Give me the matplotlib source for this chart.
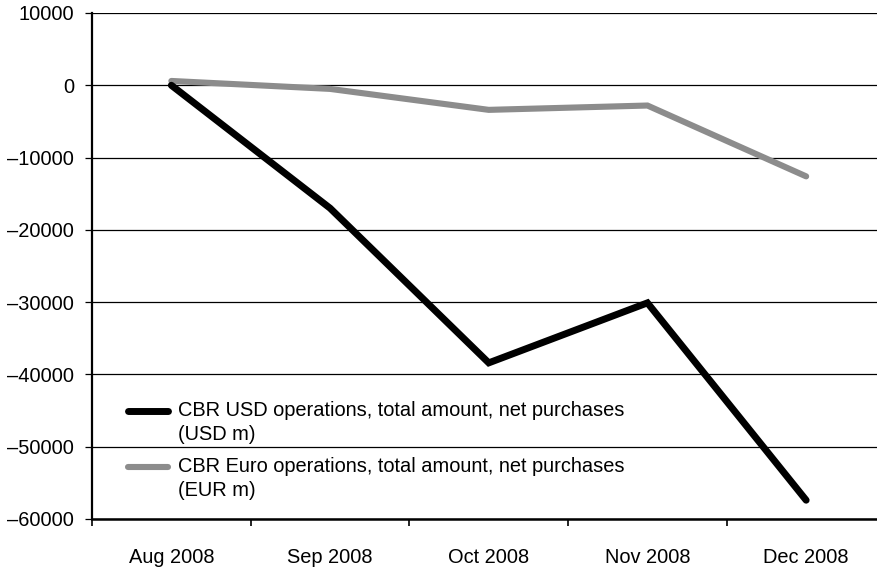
import numpy as np
import matplotlib
matplotlib.use("Agg")
import matplotlib.pyplot as plt
from matplotlib.ticker import FixedLocator

plt.rcParams['font.family'] = ['Liberation Sans', 'DejaVu Sans']

months = ["Aug 2008", "Sep 2008", "Oct 2008", "Nov 2008", "Dec 2008"]
usd_net = [0, -17000, -38400, -30100, -57400]
eur_net = [600, -500, -3400, -2800, -12600]
usd_label = ["CBR USD operations, total amount, net purchases", "(USD m)"]
eur_label = ["CBR Euro operations, total amount, net purchases", "(EUR m)"]
yticks = [10000, 0, -10000, -20000, -30000, -40000, -50000, -60000]

W, H = 878, 571
fs = 14.4
fig = plt.figure(figsize=(W / 100, H / 100), dpi=100)
ax = fig.add_axes([92 / W, 1 - 519 / H, 1 - 92 / W, (519 - 13) / H])

x = np.arange(len(months))
ax.plot(x, eur_net, color="#8c8c8c", lw=4.4, solid_capstyle="round", solid_joinstyle="miter", zorder=3)
ax.plot(x, usd_net, color="black", lw=5.0, solid_capstyle="round", solid_joinstyle="miter", zorder=4)

ax.set_ylim(-60000, 10000)
ax.set_xlim(-0.5, -0.5 + (W - 92) / 158.7)
ax.set_yticks(yticks)
ax.set_yticklabels([f"{v:d}".replace("-", "\u2013") for v in yticks], fontsize=fs)
ax.yaxis.grid(True, color="black", lw=0.9)
ax.set_axisbelow(True)

ax.set_xticks(x)
ax.set_xticklabels(months, fontsize=fs)
ax.xaxis.set_minor_locator(FixedLocator(np.arange(-0.5, len(months) - 0.5, 1.0)))
ax.tick_params(axis="x", which="major", length=0, pad=21)
ax.tick_params(axis="x", which="minor", length=5, width=1.2, direction="out")
ax.tick_params(axis="y", length=5, width=0.9, pad=8)

for s in ["top", "right"]:
    ax.spines[s].set_visible(False)
ax.spines["left"].set_linewidth(1.6)
ax.spines["bottom"].set_linewidth(1.8)

# legend, drawn by hand to keep the handle on the first text line
for (y0, lines, col, lw) in [(411, usd_label, "black", 5.0), (467, eur_label, "#8c8c8c", 4.4)]:
    fig.add_artist(plt.Line2D([128 / W, 168 / W], [1 - y0 / H] * 2, color=col, lw=lw,
                              solid_capstyle="round", transform=fig.transFigure))
    for i, t in enumerate(lines):
        fig.text(178 / W, 1 - (y0 + 24 * i) / H, t, fontsize=fs, va="center", ha="left")

fig.savefig("out.png", dpi=100)
